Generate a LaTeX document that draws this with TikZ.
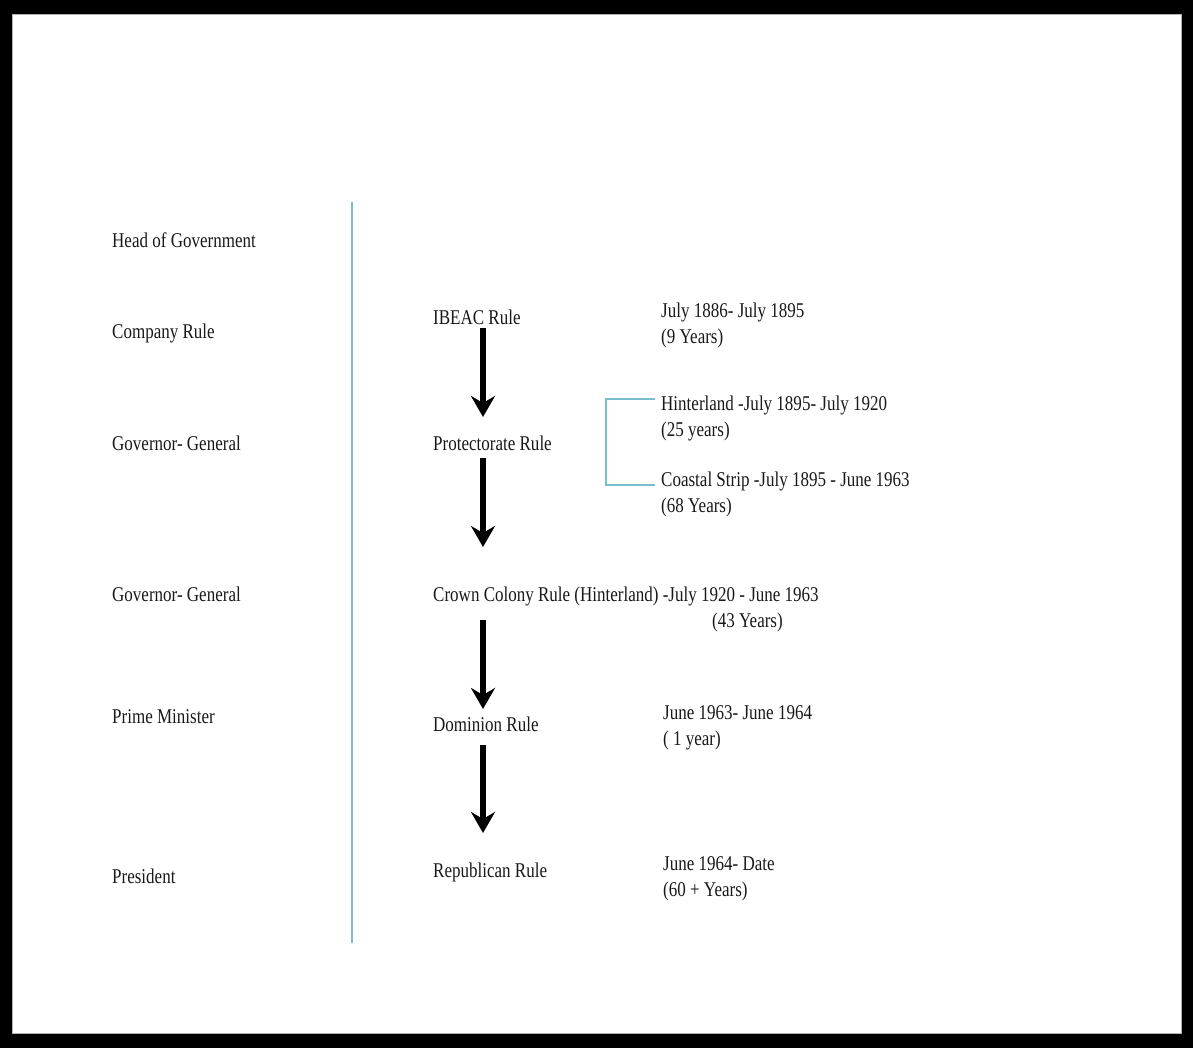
\documentclass[tikz,border=0pt]{standalone}
\usepackage{fontspec}
\setmainfont{Liberation Serif}[FakeStretch=0.81]
\usetikzlibrary{arrows.meta}
\definecolor{rulecol}{RGB}{120,190,204}
\definecolor{inkcol}{RGB}{25,25,25}
\begin{document}
\begin{tikzpicture}[x=1pt,y=-1pt,
  lbl/.style={anchor=base west,inner sep=0pt,font=\fontsize{21}{25}\selectfont,text=inkcol},
  flow/.style={draw=black,line width=6pt,-{Stealth[length=21pt,width=24pt,inset=7pt]}},
  divider/.style={draw=rulecol,line width=1.8pt},
  bracketline/.style={draw=rulecol,line width=1.5pt}]
% frame
\useasboundingbox (0,0) rectangle (1193,1048);
\fill[black] (0,0) rectangle (1193,1048);
\filldraw[fill=white,draw=gray!60,line width=1pt] (12,15) rectangle (1181,1033);

% divider between the role column and the timeline
\coordinate (divtop) at (352,202);
\coordinate (divbot) at (352,943);
\draw[divider] (divtop) -- (divbot);

% head of government column
\node[lbl] (hog) at (112,248) {Head of Government};
\node[lbl] (hcomp) at (112,338) {Company Rule};
\node[lbl] (hgov1) at (112,450) {Governor- General};
\node[lbl] (hgov2) at (112,601) {Governor- General};
\node[lbl] (hpm) at (112,723) {Prime Minister};
\node[lbl] (hpres) at (112,883) {President};

% forms of rule
\node[lbl] (ibeac) at (433,324) {IBEAC Rule};
\node[lbl] (prot) at (433,450) {Protectorate Rule};
\node[lbl] (crown) at (433,601) {Crown Colony Rule (Hinterland) -July 1920 - June 1963};
\node[lbl] (crownyrs) at (712,627) {(43 Years)};
\node[lbl] (dom) at (433,731) {Dominion Rule};
\node[lbl] (rep) at (433,877) {Republican Rule};

% periods
\node[lbl] (pibeac) at (661,317) {July 1886- July 1895};
\node[lbl] (pibeacy) at (661,343) {(9 Years)};
\node[lbl] (phint) at (661,410) {Hinterland -July 1895- July 1920};
\node[lbl] (phinty) at (661,436) {(25 years)};
\node[lbl] (pcoast) at (661,486) {Coastal Strip -July 1895 - June 1963};
\node[lbl] (pcoasty) at (661,512) {(68 Years)};
\node[lbl] (pdom) at (663,719) {June 1963- June 1964};
\node[lbl] (pdomy) at (663,745) {( 1 year)};
\node[lbl] (prep) at (663,870) {June 1964- Date};
\node[lbl] (prepy) at (663,896) {(60 + Years)};

% bracket joining the two protectorate periods
\coordinate (btop) at ([xshift=-6pt,yshift=11pt]phint.base west);
\coordinate (bbot) at ([xshift=-6pt,yshift=1pt]pcoast.base west);
\draw[bracketline] (btop) -- ++(-49,0) |- (bbot);

% succession arrows
\coordinate (a1s) at (483,328); \coordinate (a1e) at (483,417);
\coordinate (a2s) at (483,458); \coordinate (a2e) at (483,547);
\coordinate (a3s) at (483,620); \coordinate (a3e) at (483,709);
\coordinate (a4s) at (483,745); \coordinate (a4e) at (483,833);
\draw[flow] (a1s) -- (a1e);
\draw[flow] (a2s) -- (a2e);
\draw[flow] (a3s) -- (a3e);
\draw[flow] (a4s) -- (a4e);
\end{tikzpicture}
\end{document}
